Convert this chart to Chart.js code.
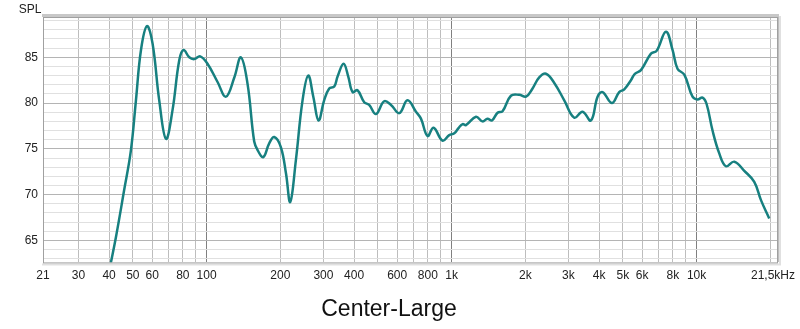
<!DOCTYPE html>
<html>
<head>
<meta charset="utf-8">
<script src="https://cdn.jsdelivr.net/npm/chart.js@4"></script>
<style>
  html, body { margin: 0; padding: 0; background: #fff; }
  #wrap { width: 800px; height: 329px; }
</style>
</head>
<body>
<div id="wrap"><canvas id="canvas" width="800" height="329"></canvas></div>
<script>
// frequency response
var freqs = [40.5, 42.7, 46.1, 49.1, 51.5, 54, 57.1, 60.2, 64.1, 68.3, 72.6, 77.4, 80.6, 85, 89.1, 94.2,
    100.9, 110.9, 120, 129.8, 138.1, 147, 156.5, 162, 170.4, 180.2, 188.9, 201, 211, 219.6, 231.6, 246.5,
    260, 272.7, 286.5, 302, 316.7, 332, 342.6, 362.5, 378.8, 394.5, 413.2, 440, 461, 491.3, 531, 565.9,
    612, 661, 715.7, 750, 798, 844.6, 918.6, 978.6, 1026, 1070, 1110, 1145, 1258, 1338, 1402, 1462, 1541,
    1615, 1747, 1889, 2013, 2141, 2280, 2428, 2626, 2884, 3169, 3425, 3707, 3945, 4133, 4515, 4834, 5069,
    5397, 5600, 5930, 6516, 6870, 7500, 7980, 8361, 8912, 9630, 10090, 10580, 10990, 11620, 12380, 13180,
    14260, 15660, 17200, 18320, 19800];
var spl = [62.3, 65.4, 70.5, 74.8, 80.3, 85.8, 88.4, 86.5, 80.3, 76.1, 79.2, 84.7, 85.8, 85.0, 84.8, 85.1,
    84.3, 82.3, 80.7, 82.8, 85.0, 82.1, 75.8, 74.8, 74.1, 75.6, 76.3, 75.2, 72.3, 69.2, 73.8, 80.3,
    83.0, 80.7, 78.1, 80.3, 81.6, 81.8, 82.9, 84.3, 82.9, 81.2, 81.4, 80.1, 79.8, 78.8, 80.2, 79.8,
    78.9, 80.3, 79.05, 78.3, 76.4, 77.3, 75.9, 76.5, 76.7, 77.3, 77.7, 77.6, 78.5, 78.0, 78.3, 78.1, 78.95,
    79.1, 80.8, 80.9, 80.7, 81.6, 82.8, 83.2, 82.2, 80.3, 78.4, 79.05, 78.1, 80.7, 81.2, 80.0, 81.2, 81.5,
    82.5, 83.2, 83.6, 85.4, 85.7, 87.8, 85.8, 83.75, 83.1, 80.7, 80.4, 80.6, 79.9, 77.0, 74.5, 73.1,
    73.6, 72.6, 71.4, 69.4, 67.4];

// axis ticks
var xGrid = [21.5, 30, 40, 50, 60, 70, 80, 90, 100, 200, 300, 400, 500, 600, 700, 800, 900,
    1000, 2000, 3000, 4000, 5000, 6000, 7000, 8000, 9000, 10000, 20000, 21500];
var xLabels = {21.5: '21', 30: '30', 40: '40', 50: '50', 60: '60', 80: '80', 100: '100', 200: '200',
    300: '300', 400: '400', 600: '600', 800: '800', 1000: '1k', 2000: '2k', 3000: '3k', 4000: '4k',
    5000: '5k', 6000: '6k', 8000: '8k', 10000: '10k', 21500: '21,5kHz   '};
var yGrid = [63, 64, 65, 66, 67, 68, 69, 70, 71, 72, 73, 74, 75, 76, 77, 78, 79, 80, 81, 82, 83, 84, 85, 86, 87, 88, 89];
var yLabels = [65, 70, 75, 80, 85];

var points = freqs.map(function(f, i) { return {x: f, y: spl[i]}; });

var framePlugin = {
    id: 'frame',
    afterDraw: function(chart) {
        var ctx = chart.ctx, a = chart.chartArea;
        ctx.save();
        // soft shadow
        ctx.strokeStyle = 'rgba(0,0,0,0.12)';
        ctx.lineWidth = 2;
        ctx.beginPath();
        ctx.moveTo(a.right + 2, a.top - 1);
        ctx.lineTo(a.right + 2, a.bottom + 2);
        ctx.lineTo(a.left - 1, a.bottom + 2);
        ctx.stroke();
        ctx.strokeStyle = '#c8c8c8';
        ctx.lineWidth = 3;
        ctx.beginPath();
        ctx.moveTo(a.left - 1, a.top - 1.5);
        ctx.lineTo(a.right + 1, a.top - 1.5);
        ctx.stroke();
        ctx.strokeStyle = '#a0a0a0';
        ctx.lineWidth = 1;
        ctx.strokeRect(a.left + 0.5, a.top + 0.5, a.right - a.left - 1, a.bottom - a.top);
        ctx.fillStyle = '#222';
        ctx.font = '12px "Liberation Sans", Arial, sans-serif';
        ctx.textAlign = 'center';
        ctx.textBaseline = 'middle';
        ctx.fillText('SPL', 30, 10);
        ctx.restore();
    }
};

window.onload = function() {
    var ctx = document.getElementById('canvas').getContext('2d');
    new Chart(ctx, {
        type: 'line',
        data: {
            datasets: [{
                label: 'Center-Large',
                data: points,
                borderColor: '#178080',
                borderWidth: 2.5,
                pointRadius: 0,
                tension: 0.4,
                fill: false
            }]
        },
        options: {
            responsive: false,
            animation: false,
            layout: { padding: { left: 0, right: 22, top: 17, bottom: 0 } },
            plugins: {
                legend: { display: false },
                tooltip: { enabled: false },
                title: {
                    display: true,
                    position: 'bottom',
                    text: 'Center-Large',
                    color: '#111',
                    font: { family: '"Liberation Sans", Arial, sans-serif', size: 23, weight: 'normal' },
                    padding: { top: 3, bottom: 6 }
                }
            },
            scales: {
                x: {
                    type: 'logarithmic',
                    min: 21.5,
                    max: 21500,
                    afterBuildTicks: function(scale) {
                        scale.ticks = xGrid.map(function(v) { return {value: v}; });
                    },
                    afterFit: function(scale) {
                        scale.height = 30;
                        scale.paddingLeft = 0;
                        scale.paddingRight = 0;
                    },
                    border: { display: false },
                    grid: {
                        drawTicks: false,
                        lineWidth: 1,
                        color: function(c) {
                            var v = c.tick && c.tick.value;
                            if (v === 100 || v === 1000 || v === 10000) return '#808080';
                            return '#bdbdbd';
                        }
                    },
                    ticks: {
                        autoSkip: false,
                        maxRotation: 0,
                        padding: 6,
                        color: '#222',
                        font: { family: '"Liberation Sans", Arial, sans-serif', size: 12 },
                        callback: function(value) { return xLabels[value] || ''; }
                    }
                },
                y: {
                    min: 62.6,
                    max: 89.4,
                    afterBuildTicks: function(scale) {
                        scale.ticks = yGrid.map(function(v) { return {value: v}; });
                    },
                    afterFit: function(scale) {
                        scale.width = 43;
                        scale.paddingTop = 0;
                        scale.paddingBottom = 0;
                    },
                    border: { display: false },
                    grid: {
                        drawTicks: false,
                        color: function(c) {
                            var v = c.tick && c.tick.value;
                            return yLabels.indexOf(v) >= 0 ? '#b4b4b4' : '#e0e0e0';
                        }
                    },
                    ticks: {
                        autoSkip: false,
                        padding: 5,
                        color: '#222',
                        font: { family: '"Liberation Sans", Arial, sans-serif', size: 12 },
                        callback: function(value) { return yLabels.indexOf(value) >= 0 ? String(value) : ''; }
                    }
                }
            }
        },
        plugins: [framePlugin]
    });
};
</script>
</body>
</html>
